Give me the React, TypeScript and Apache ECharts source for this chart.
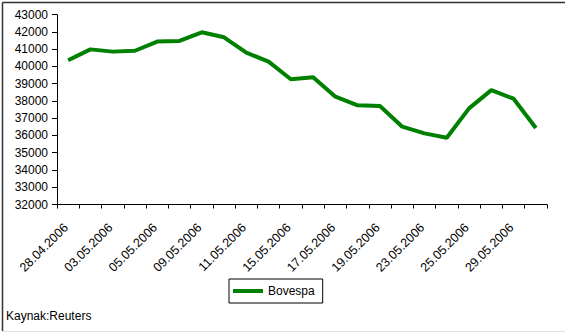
import React, { useEffect, useRef } from "react";
import * as echarts from "echarts";

const dates = [
  "28.04.2006", "02.05.2006", "03.05.2006", "04.05.2006", "05.05.2006", "08.05.2006",
  "09.05.2006", "10.05.2006", "11.05.2006", "12.05.2006", "15.05.2006", "16.05.2006",
  "17.05.2006", "18.05.2006", "19.05.2006", "22.05.2006", "23.05.2006", "24.05.2006",
  "25.05.2006", "26.05.2006", "29.05.2006", "30.05.2006",
];

const bovespa = [
  40360, 40990, 40860, 40910, 41440, 41480, 41980, 41690, 40800, 40280, 39260, 39370,
  38250, 37750, 37710, 36510, 36120, 35870, 37570, 38630, 38130, 36430,
];

const seriesName = "Bovespa";
const sourceText = "Kaynak:Reuters";
const yMin = 32000;
const yMax = 43000;
const yStep = 1000;

export default function App() {
  const ref = useRef<HTMLDivElement>(null);
  useEffect(() => {
    if (!ref.current) return;
    const chart = echarts.init(ref.current, null, { renderer: "svg" });
    const font = "'Liberation Sans', Arial, sans-serif";
    chart.setOption({
      animation: false,
      backgroundColor: "#ffffff",
      textStyle: { fontFamily: font },
      grid: { left: 57, right: 18, top: 14.7, bottom: 128.5, containLabel: false },
      legend: {
        data: [seriesName],
        left: 229,
        top: 279,
        width: 93,
        height: 27,
        padding: [6, 8, 6, 4],
        itemWidth: 30,
        itemHeight: 4,
        itemGap: 4,
        borderColor: "#000000",
        borderWidth: 1,
        textStyle: { fontFamily: font, fontSize: 12, color: "#000000" },
        icon: "rect",
      },
      xAxis: {
        type: "category",
        data: dates,
        boundaryGap: true,
        axisLine: { lineStyle: { color: "#000000", width: 1 } },
        axisTick: { show: true, interval: 0, length: 4, lineStyle: { color: "#000000" } },
        axisLabel: {
          interval: 1,
          rotate: 45,
          margin: 19,
          fontSize: 12.5,
          padding: [0, 3, 6, 0],
          color: "#000000",
          fontFamily: font,
        },
        splitLine: { show: false },
      },
      yAxis: {
        type: "value",
        min: yMin,
        max: yMax,
        interval: yStep,
        axisLine: { show: true, lineStyle: { color: "#000000", width: 1 } },
        axisTick: { show: true, length: 5, lineStyle: { color: "#000000" } },
        axisLabel: {
          margin: 9,
          fontSize: 12,
          color: "#000000",
          fontFamily: font,
          formatter: (v: number) => String(v),
        },
        splitLine: { show: false },
      },
      series: [
        {
          name: seriesName,
          type: "line",
          data: bovespa,
          symbol: "none",
          lineStyle: { color: "#008000", width: 4 },
          itemStyle: { color: "#008000" },
        },
      ],
      graphic: [
        { type: "line", shape: { x1: 2.5, y1: 2.5, x2: 565, y2: 2.5 }, style: { stroke: "#333333", lineWidth: 1.5 } },
        { type: "line", shape: { x1: 2.5, y1: 2.5, x2: 2.5, y2: 331 }, style: { stroke: "#333333", lineWidth: 1.5 } },
        { type: "line", shape: { x1: 2.5, y1: 331.5, x2: 565, y2: 331.5 }, style: { stroke: "#e0e0e0", lineWidth: 1 } },
        {
          type: "text",
          left: 6,
          top: 310,
          style: { text: sourceText, fontSize: 12, fill: "#000000", fontFamily: font },
        },
      ],
    });
    return () => chart.dispose();
  }, []);
  return <div ref={ref} style={{ width: 565, height: 333, position: "absolute", left: 0, top: 0 }} />;
}
